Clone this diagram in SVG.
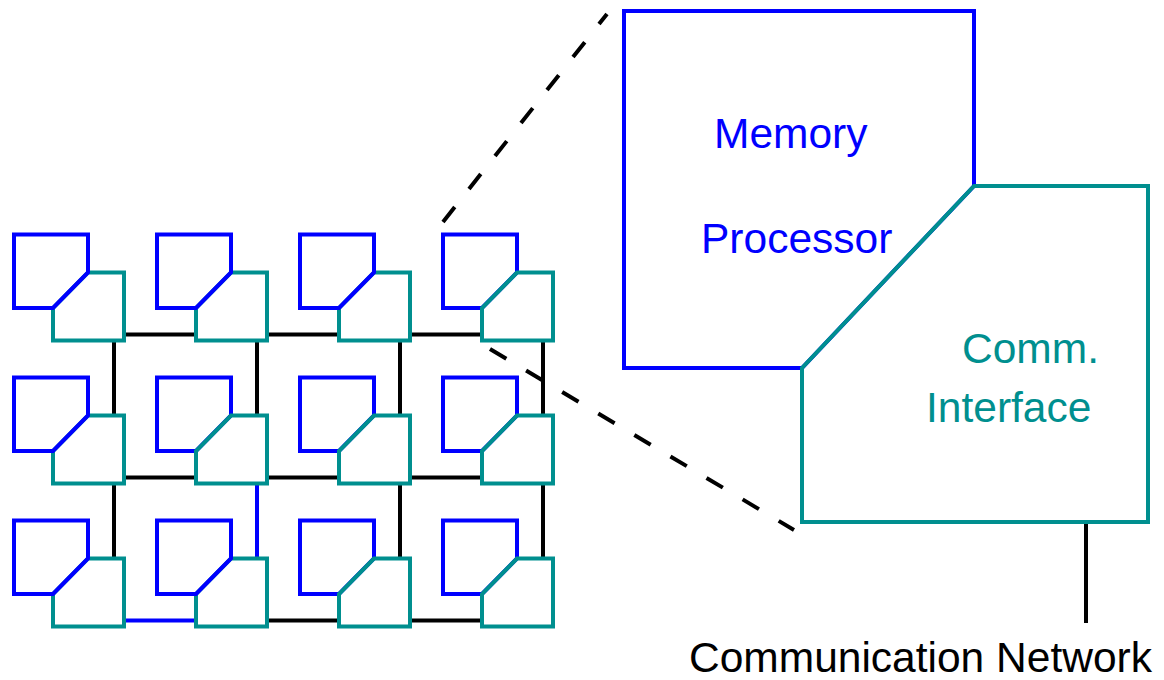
<svg xmlns="http://www.w3.org/2000/svg" xmlns:xlink="http://www.w3.org/1999/xlink" width="1164" height="680" viewBox="0 0 1164 680">
  <style>
    .mem { fill: none; stroke: #0000ff; stroke-width: 4; stroke-linejoin: miter; }
    .com { fill: none; stroke: #008f8f; stroke-width: 4; stroke-linejoin: miter; }
    .link { stroke: #000000; stroke-width: 4; fill: none; }
    .link-blue { stroke: #0000ff; stroke-width: 4; fill: none; }
    .zoomline { stroke: #000000; stroke-width: 4; stroke-dasharray: 19 23; fill: none; }
    .lbl { font-family: "Liberation Sans", Arial, sans-serif; font-size: 42.5px; }
    .lbl-mem { fill: #0000ff; }
    .lbl-com { fill: #008f8f; }
    .lbl-net { fill: #000000; }
  </style>
  <defs>
    <!-- processing element: memory/processor block over comm. interface block -->
    <polygon id="pe-mem" class="mem" points="0,0 74,0 74,38 39,73.5 0,73.5"/>
    <polygon id="pe-com" class="com" points="74,38 110,38 110,106 39,106 39,73.5"/>
    <!-- variant where the shared diagonal edge shows in blue -->
    <g id="pe-b">
      <use xlink:href="#pe-com"/>
      <use xlink:href="#pe-mem"/>
    </g>
    <!-- variant where the shared diagonal edge shows in teal -->
    <g id="pe-t">
      <use xlink:href="#pe-mem"/>
      <use xlink:href="#pe-com"/>
    </g>
  </defs>

  <rect x="0" y="0" width="1164" height="680" fill="#ffffff"/>

  <!-- network links between processing elements -->
  <g id="connectors">
    <!-- row 0 horizontals -->
    <line class="link" x1="124" y1="334.5" x2="196" y2="334.5"/>
    <line class="link" x1="267" y1="334.5" x2="339" y2="334.5"/>
    <line class="link" x1="410" y1="334.5" x2="482" y2="334.5"/>
    <!-- row 1 horizontals -->
    <line class="link" x1="124" y1="477.5" x2="196" y2="477.5"/>
    <line class="link" x1="267" y1="477.5" x2="339" y2="477.5"/>
    <line class="link" x1="410" y1="477.5" x2="482" y2="477.5"/>
    <!-- row 2 horizontals -->
    <line class="link-blue" x1="124" y1="620.5" x2="196" y2="620.5"/>
    <line class="link" x1="267" y1="620.5" x2="339" y2="620.5"/>
    <line class="link" x1="410" y1="620.5" x2="482" y2="620.5"/>
    <!-- verticals between rows 0 and 1 -->
    <line class="link" x1="114" y1="340.5" x2="114" y2="415.5"/>
    <line class="link" x1="257" y1="340.5" x2="257" y2="415.5"/>
    <line class="link" x1="400" y1="340.5" x2="400" y2="415.5"/>
    <line class="link" x1="543" y1="340.5" x2="543" y2="415.5"/>
    <!-- verticals between rows 1 and 2 -->
    <line class="link" x1="114" y1="483.5" x2="114" y2="558.5"/>
    <line class="link-blue" x1="257" y1="483.5" x2="257" y2="558.5"/>
    <line class="link" x1="400" y1="483.5" x2="400" y2="558.5"/>
    <line class="link" x1="543" y1="483.5" x2="543" y2="558.5"/>
    <!-- magnification guides -->
    <line class="zoomline" x1="443" y1="222" x2="607" y2="14"/>
    <line class="zoomline" x1="490" y1="349" x2="794" y2="530"/>
    <!-- link to the communication network -->
    <line class="link" x1="1086" y1="522" x2="1086" y2="623"/>
  </g>

  <!-- processing element array -->
  <g id="pe-0-0"><use xlink:href="#pe-b" x="14" y="234.5"/></g>
  <g id="pe-0-1"><use xlink:href="#pe-b" x="157" y="234.5"/></g>
  <g id="pe-0-2"><use xlink:href="#pe-b" x="300" y="234.5"/></g>
  <g id="pe-0-3"><use xlink:href="#pe-t" x="443" y="234.5"/></g>

  <g id="pe-1-0"><use xlink:href="#pe-b" x="14" y="377.5"/></g>
  <g id="pe-1-1"><use xlink:href="#pe-t" x="157" y="377.5"/></g>
  <g id="pe-1-2"><use xlink:href="#pe-t" x="300" y="377.5"/></g>
  <g id="pe-1-3"><use xlink:href="#pe-t" x="443" y="377.5"/></g>

  <g id="pe-2-0"><use xlink:href="#pe-b" x="14" y="520.5"/></g>
  <g id="pe-2-1"><use xlink:href="#pe-b" x="157" y="520.5"/></g>
  <g id="pe-2-2"><use xlink:href="#pe-t" x="300" y="520.5"/></g>
  <g id="pe-2-3"><use xlink:href="#pe-t" x="443" y="520.5"/></g>

  <!-- enlarged processing element -->
  <g id="memory-processor">
    <polygon class="mem" points="624,11 974,11 974,186 802,368 624,368"/>
    <text class="lbl lbl-mem" x="714" y="148">Memory</text>
    <text class="lbl lbl-mem" x="701" y="253">Processor</text>
  </g>
  <g id="comm-interface">
    <polygon class="com" points="974,186 1148,186 1148,522 802,522 802,368"/>
    <text class="lbl lbl-com" x="962" y="363">Comm.</text>
    <text class="lbl lbl-com" x="926" y="422">Interface</text>
  </g>
  <g id="network-label">
    <text class="lbl lbl-net" x="689" y="672">Communication Network</text>
  </g>
</svg>
